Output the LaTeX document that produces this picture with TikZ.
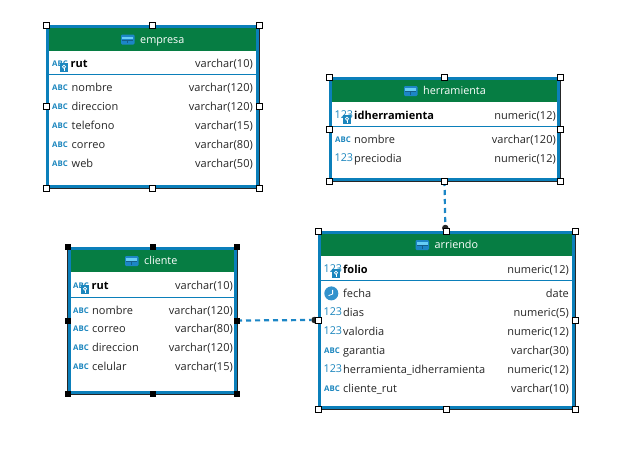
\documentclass[tikz,border=0pt]{standalone}
\usepackage{fontspec}
\setmainfont{Open Sans}
\definecolor{tblue}{HTML}{0B7FBA}
\definecolor{tgreen}{HTML}{067D43}
\definecolor{lnk}{HTML}{1C86C6}
\definecolor{icon}{HTML}{1B86BE}
\definecolor{ink}{HTML}{262626}
\tikzset{
  x=1pt,y=-1pt,
  tablebox/.style={draw=black!85,line width=.9pt,fill=white,anchor=north west,inner sep=0pt,outer sep=0pt},
  bluefr/.style={draw=tblue,line width=3pt},
  hdr/.style={fill=tgreen,draw=none},
  sepline/.style={draw=tblue,line width=.7pt},
  title/.style={text=white,font=\fontsize{10.8}{12}\selectfont,inner sep=0pt,anchor=base west},
  colname/.style={text=ink,font=\fontsize{11}{12}\selectfont,inner sep=0pt,anchor=base west},
  pkname/.style={text=black,font=\fontsize{11}{12}\selectfont\bfseries,inner sep=0pt,anchor=base west},
  coltype/.style={text=ink,font=\fontsize{11}{12}\selectfont,inner sep=0pt,anchor=base east},
  abcicon/.style={text=icon,font=\fontsize{7.8}{9}\selectfont\bfseries,inner sep=0pt,anchor=base west},
  numicon/.style={text=icon,font=\fontsize{10.8}{12}\selectfont,inner sep=0pt,anchor=base west},
  hw/.style={draw=black,line width=.9pt,fill=white,minimum size=6pt,inner sep=0pt,outer sep=0pt},
  hb/.style={draw=black,fill=black,line width=.4pt,minimum size=5pt,inner sep=0pt,outer sep=0pt},
  relink/.style={draw=lnk,line width=2.2pt,dash pattern=on 5pt off 4pt},
  enddot/.style={circle,fill=black!85,draw=none,minimum size=6.5pt,inner sep=0pt,outer sep=0pt},
}
% name, x1,y1,x2,y2, header bottom, separator y, title, title x
\newcommand{\tbl}[9]{%
  \node[tablebox,minimum width=#4-#2,minimum height=#5-#3] (#1) at (#2,#3) {};
  \draw[bluefr] (#2+1.9,#3+1.9) rectangle (#4-1.9,#5-1.9);
  \fill[tgreen] (#2+3,#3+3.2) rectangle (#4-3,#6);
  \draw[sepline] (#2+3,#7) -- (#4-3,#7);
  \begin{scope}[shift={(#9-19,#3+3+0.5*#6-0.5*#3-1.5-5)}]
    \fill[rounded corners=1.2pt,fill=lnk] (0,0) rectangle (13.5,10);
    \fill[cyan!60!white] (1.2,2) rectangle (12.3,4.8);
    \fill[lnk!70!black] (6.4,5.3) rectangle (7.1,8.8);
    \fill[lnk!70!black] (1.2,5.2) rectangle (12.3,5.8);
  \end{scope}
  \node[title] (#1-title) at (#9,#3+3+0.5*#6-0.5*#3-1.5+3.8) {#8};
}
% prefix id, icon kind macro, name, type, baseline y, icon x, name x, type x
\newcommand{\iabc}[3]{\node[abcicon] (#1-i) at (#2,#3-.8) {ABC};}
\newcommand{\inum}[3]{\node[numicon] (#1-i) at (#2-.6,#3-.3) {123};}
\newcommand{\iclk}[3]{%
  \node[circle,fill=lnk!90!white,minimum size=14pt,inner sep=0pt] (#1-i) at (#2+7.3,#3-3.6) {};
  \draw[white,line width=.8pt] (#2+8.6,#3-7.2) -- (#2+8.6,#3-3) -- (#2+4.6,#3-1.4);
}
\newcommand{\ikey}[3]{%
  \fill[icon] (#2+8,#3-3.8) rectangle (#2+16,#3+4.8);
  \draw[white,line width=.7pt] (#2+12,#3-.3) circle (1.6);
  \draw[white,line width=.7pt] (#2+12,#3+1.4) -- (#2+12,#3+3.6);
}
\newcommand{\trow}[8]{%
  #2{#1}{#6}{#5}
  \node[colname] (#1-n) at (#7,#5) {#3};
  \node[coltype] (#1-t) at (#8,#5) {#4};
}
\newcommand{\prow}[8]{%
  #2{#1}{#6}{#5}
  \ikey{#1}{#6}{#5}
  \node[pkname] (#1-n) at (#7,#5) {#3};
  \node[coltype] (#1-t) at (#8,#5) {#4};
}
\newcommand{\handles}[2]{%
  \foreach \a [count=\i] in {north west,north,north east,west,east,south west,south,south east}
    \node[#2] (#1-h\i) at (#1.\a) {};
}
\begin{document}
\begin{tikzpicture}
\useasboundingbox[fill=white] (0,0) rectangle (620,455);
% empresa
\tbl{e}{46}{25}{259}{188}{51}{74}{empresa}{140}
\prow{e0}{\iabc}{rut}{varchar(10)}{67}{52}{70.5}{253}
\trow{e1}{\iabc}{nombre}{varchar(120)}{91}{52}{71.5}{253}
\trow{e2}{\iabc}{direccion}{varchar(120)}{110}{52}{71.5}{253}
\trow{e3}{\iabc}{telefono}{varchar(15)}{129}{52}{71.5}{253}
\trow{e4}{\iabc}{correo}{varchar(80)}{148}{52}{71.5}{253}
\trow{e5}{\iabc}{web}{varchar(50)}{167}{52}{71.5}{253}
% herramienta
\tbl{h}{329}{77}{560}{181}{102}{126}{herramienta}{423}
\prow{h0}{\inum}{idherramienta}{numeric(12)}{119}{335}{354}{556}
\trow{h1}{\iabc}{nombre}{varchar(120)}{143}{335}{354}{556}
\trow{h2}{\inum}{preciodia}{numeric(12)}{162}{335}{354}{556}
% cliente
\tbl{c}{67.5}{247}{237}{394}{272}{297}{cliente}{144}
\prow{c0}{\iabc}{rut}{varchar(10)}{289}{73}{91.5}{233}
\trow{c1}{\iabc}{nombre}{varchar(120)}{314}{73}{92}{233}
\trow{c2}{\iabc}{correo}{varchar(80)}{332}{73}{92}{233}
\trow{c3}{\iabc}{direccion}{varchar(120)}{351}{73}{92}{233}
\trow{c4}{\iabc}{celular}{varchar(15)}{370}{73}{92}{233}
% arriendo
\tbl{a}{318}{231}{575}{409}{256}{280}{arriendo}{434.5}
\prow{a0}{\inum}{folio}{numeric(12)}{273}{324}{343}{569}
\trow{a1}{\iclk}{fecha}{date}{297}{324}{343}{569}
\trow{a2}{\inum}{dias}{numeric(5)}{316}{324}{343}{569}
\trow{a3}{\inum}{valordia}{numeric(12)}{335}{324}{343}{569}
\trow{a4}{\iabc}{garantia}{varchar(30)}{354}{324}{343}{569}
\trow{a5}{\inum}{herramienta\_idherramienta}{numeric(12)}{373}{324}{343}{569}
\trow{a6}{\iabc}{cliente\_rut}{varchar(10)}{392}{324}{343}{569}
% connectors
\node[enddot] (dh) at (445.3,228) {};
\node[enddot] (dc) at (314.5,320) {};
\draw[relink] (h.south) -- (dh);
\draw[relink] (c.east) -- (dc);
% handles
\handles{e}{hw}
\handles{h}{hw}
\handles{a}{hw}
\handles{c}{hb}
\end{tikzpicture}
\end{document}
